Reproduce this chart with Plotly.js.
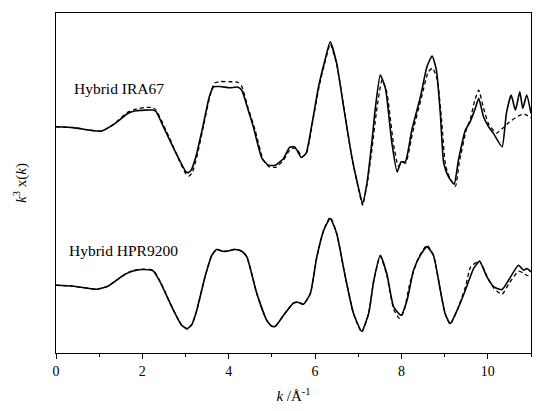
<!DOCTYPE html>
<html>
<head>
<meta charset="utf-8">
<script src="https://cdn.plot.ly/plotly-3.0.1.min.js"></script>
<style>
  html, body { margin: 0; padding: 0; background: #fff; }
  #plot { width: 550px; height: 411px; }
</style>
</head>
<body>
<div id="plot"></div>
<script>
// EXAFS k^3-weighted spectra (arbitrary units, relative to each baseline)
const kIRAfit = [0, 0.4, 0.77, 1.05, 1.31, 1.5, 1.65, 1.85, 2.05, 2.24, 2.32, 2.47, 2.67, 2.86, 3.01, 3.06, 3.13, 3.24, 3.4, 3.55, 3.65, 3.8, 4.03, 4.2, 4.3, 4.45, 4.57, 4.77, 4.92, 5.08, 5.27, 5.41, 5.52, 5.58, 5.68, 5.79, 5.93, 6.08, 6.23, 6.35, 6.5, 6.66, 6.85, 7.0, 7.1, 7.2, 7.32, 7.39, 7.51, 7.62, 7.66, 7.78, 7.9, 7.99, 8.09, 8.24, 8.44, 8.59, 8.71, 8.81, 8.9, 8.98, 9.09, 9.22, 9.32, 9.48, 9.59, 9.71, 9.79, 9.9, 10.02, 10.13, 10.33, 10.43, 10.54, 10.64, 10.74, 10.81, 10.9, 11.0];
const chiIRA = [0, -0.08, -0.33, -0.43, 0.17, 0.77, 1.3, 1.6, 1.67, 1.67, 1.5, 0.17, -1.66, -3.33, -4.5, -4.58, -4.33, -3.0, 0, 3.0, 4.0, 4.02, 3.9, 3.97, 3.67, 1.67, 0, -3.16, -3.83, -3.83, -3.16, -2.06, -2.0, -2.33, -3.06, -2.66, 0.34, 4.0, 6.67, 8.5, 6.34, 2.0, -3.0, -6.0, -7.66, -5.66, -1.33, 1.67, 5.17, 4.0, 3.0, -1.66, -4.5, -3.5, -3.5, -0.33, 3.0, 6.0, 7.07, 5.67, 1.34, -3.66, -5.0, -5.73, -3.33, -0.33, 0.5, 1.84, 2.84, 1.0, 0, -0.66, -2.0, 1.34, 3.17, 1.67, 3.5, 1.84, 3.17, 1.34];

const kIRAfitD = [0, 0.4, 0.77, 1.05, 1.31, 1.5, 1.65, 1.85, 2.05, 2.24, 2.32, 2.47, 2.67, 2.86, 3.01, 3.08, 3.15, 3.26, 3.42, 3.57, 3.67, 3.8, 4.03, 4.2, 4.3, 4.45, 4.6, 4.8, 4.95, 5.1, 5.27, 5.41, 5.52, 5.6, 5.7, 5.81, 5.95, 6.1, 6.23, 6.35, 6.5, 6.66, 6.85, 7.0, 7.1, 7.2, 7.32, 7.42, 7.55, 7.66, 7.72, 7.82, 7.93, 8.02, 8.1, 8.26, 8.46, 8.62, 8.72, 8.83, 8.93, 9.02, 9.12, 9.25, 9.34, 9.5, 9.6, 9.7, 9.79, 9.9, 10.02, 10.2, 10.35, 10.5, 10.7, 10.85, 11.0];
const chiIRAfit = [0, -0.08, -0.33, -0.43, 0.17, 0.87, 1.43, 1.77, 1.92, 1.92, 1.67, 0.37, -1.53, -3.43, -4.73, -4.93, -4.63, -3.03, 0.17, 3.17, 4.37, 4.52, 4.5, 4.47, 4.07, 1.87, -0.13, -3.33, -4.03, -4.03, -3.33, -2.33, -2.13, -2.33, -3.03, -2.53, 0.67, 4.17, 6.47, 8.27, 6.27, 2.07, -3.03, -6.13, -7.83, -5.83, -2.13, 1.47, 4.67, 3.47, 1.67, -1.83, -3.93, -3.53, -3.63, -0.53, 2.87, 5.47, 5.87, 4.67, 0.67, -3.83, -5.13, -5.93, -3.53, -0.33, 0.87, 2.67, 3.67, 1.87, 0.27, -0.63, -0.13, 0.47, 1.07, 1.27, 0.87];

const kHPR = [0, 0.4, 0.94, 1.2, 1.4, 1.6, 1.79, 2.02, 2.25, 2.41, 2.72, 2.91, 3.04, 3.15, 3.26, 3.45, 3.61, 3.72, 3.85, 3.96, 4.15, 4.3, 4.42, 4.65, 4.88, 5.0, 5.08, 5.27, 5.5, 5.6, 5.73, 5.89, 6.04, 6.2, 6.35, 6.5, 6.7, 6.89, 7.08, 7.24, 7.36, 7.51, 7.66, 7.82, 7.99, 8.13, 8.28, 8.44, 8.59, 8.74, 8.9, 9.01, 9.13, 9.29, 9.48, 9.67, 9.81, 9.98, 10.14, 10.33, 10.48, 10.71, 10.83, 10.9, 11.0];
const chiHPR = [0, -0.1, -0.4, -0.1, 0.5, 1.1, 1.43, 1.57, 1.43, 0.33, -2.5, -4.0, -4.33, -3.9, -2.5, 0.83, 3.0, 3.57, 3.4, 3.4, 3.57, 3.4, 2.83, -0.83, -3.5, -4.1, -4.1, -3.0, -1.77, -1.7, -1.9, -0.83, 2.83, 5.5, 6.67, 5.17, 0.83, -2.83, -4.6, -2.83, 0.5, 3.0, 1.17, -2.17, -3.0, -1.5, 1.5, 3.0, 3.83, 3.0, -0.5, -2.83, -3.83, -2.5, -0.5, 1.67, 2.4, 0.83, -0.17, -0.43, 0.5, 2.0, 1.5, 1.67, 1.33];

const kHPRfit = [0, 0.4, 0.94, 1.2, 1.4, 1.6, 1.79, 2.02, 2.25, 2.41, 2.72, 2.91, 3.04, 3.15, 3.26, 3.45, 3.61, 3.72, 3.85, 3.96, 4.15, 4.3, 4.42, 4.65, 4.88, 5.0, 5.08, 5.27, 5.5, 5.6, 5.73, 5.89, 6.04, 6.2, 6.35, 6.5, 6.7, 6.89, 7.08, 7.24, 7.36, 7.51, 7.66, 7.82, 7.95, 8.05, 8.2, 8.4, 8.59, 8.74, 8.9, 9.01, 9.13, 9.29, 9.48, 9.6, 9.8, 9.98, 10.14, 10.33, 10.48, 10.71, 10.83, 10.9, 11.0];
const chiHPRfit = [0, -0.1, -0.4, -0.1, 0.5, 1.1, 1.5, 1.6, 1.5, 0.4, -2.5, -4.0, -4.4, -3.9, -2.5, 0.83, 3.0, 3.6, 3.4, 3.4, 3.6, 3.4, 2.83, -0.83, -3.5, -4.1, -4.1, -3.0, -1.77, -1.7, -1.9, -0.83, 2.83, 5.5, 6.8, 5.17, 0.83, -2.83, -4.7, -2.83, 0.5, 2.9, 1.0, -2.4, -3.3, -2.7, 0.3, 2.8, 4.0, 3.0, -0.5, -2.83, -3.9, -2.5, -0.2, 1.8, 2.45, 0.9, -0.3, -0.9, 0.1, 1.4, 1.2, 1.0, 0.9];

const offsetIRA = 22.6;
const offsetHPR = 6.77;
const labels = ['Hybrid IRA67', 'Hybrid HPR9200'];

function shift(arr, off) { return arr.map(function (v) { return v + off; }); }

var solid = { color: '#000', width: 1.6, shape: 'spline', smoothing: 0.5 };
var dashed = { color: '#000', width: 1.3, dash: '4px,3px', shape: 'spline', smoothing: 0.5 };

var data = [
  { x: kIRAfitD, y: shift(chiIRAfit, offsetIRA), mode: 'lines', line: dashed, hoverinfo: 'skip' },
  { x: kIRAfit, y: shift(chiIRA, offsetIRA), mode: 'lines', line: solid, hoverinfo: 'skip' },
  { x: kHPRfit, y: shift(chiHPRfit, offsetHPR), mode: 'lines', line: dashed, hoverinfo: 'skip' },
  { x: kHPR, y: shift(chiHPR, offsetHPR), mode: 'lines', line: solid, hoverinfo: 'skip' }
];

var serif = '"Liberation Serif", "Times New Roman", serif';

var layout = {
  width: 550, height: 411,
  margin: { l: 56, r: 19, t: 13, b: 58 },
  paper_bgcolor: '#fff', plot_bgcolor: '#fff',
  showlegend: false,
  font: { family: serif, size: 14, color: '#000' },
  xaxis: {
    range: [0, 11], dtick: 2, tick0: 0,
    ticks: 'outside', ticklen: 5, tickwidth: 1, tickcolor: '#000',
    minor: { dtick: 1, ticks: 'outside', ticklen: 3, tickwidth: 1, tickcolor: '#000' },
    showgrid: false, zeroline: false,
    showline: true, linecolor: '#000', linewidth: 1.2, mirror: true,
    tickfont: { family: serif, size: 14, color: '#000' },
    title: { text: '<i>k</i> /Å<sup>-1</sup>', font: { family: serif, size: 15, color: '#000' }, standoff: 12 }
  },
  yaxis: {
    range: [0, 33.97],
    showticklabels: false, ticks: '',
    showgrid: false, zeroline: false,
    showline: true, linecolor: '#000', linewidth: 1.2, mirror: true,
    title: { text: '<i>k</i><sup>3</sup> x(<i>k</i>)', font: { family: serif, size: 15, color: '#000' }, standoff: 24 }
  },
  annotations: [
    { x: 0.37, y: offsetIRA + 3.8, xref: 'x', yref: 'y', xanchor: 'left', yanchor: 'middle',
      text: labels[0], showarrow: false, font: { family: serif, size: 15.5, color: '#000' } },
    { x: 0.26, y: offsetHPR + 3.43, xref: 'x', yref: 'y', xanchor: 'left', yanchor: 'middle',
      text: labels[1], showarrow: false, font: { family: serif, size: 15.5, color: '#000' } }
  ]
};

Plotly.newPlot('plot', data, layout, { displayModeBar: false, staticPlot: true });
</script>
</body>
</html>
